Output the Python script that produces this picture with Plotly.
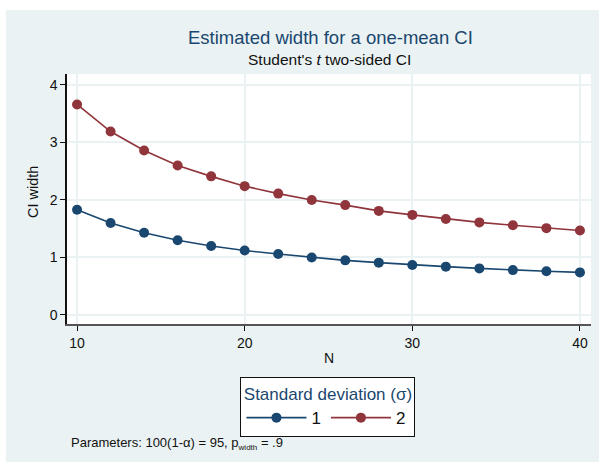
import plotly.graph_objects as go

# Sample sizes and estimated CI widths for each standard deviation
sample_size = [10, 12, 14, 16, 18, 20, 22, 24, 26, 28, 30, 32, 34, 36, 38, 40]
width_sd1 = [1.83, 1.60, 1.43, 1.30, 1.20, 1.12, 1.06, 1.00, 0.95, 0.91,
             0.87, 0.84, 0.81, 0.78, 0.76, 0.74]
width_sd2 = [3.66, 3.19, 2.86, 2.60, 2.41, 2.24, 2.11, 2.00, 1.91, 1.81,
             1.74, 1.67, 1.61, 1.56, 1.51, 1.47]
series_names = ["1", "2"]
x_ticks = [10, 20, 30, 40]
y_ticks = [0, 1, 2, 3, 4]

NAVY = "#1a476f"
MAROON = "#90353b"
BG = "#eaf2f3"
FONT = "Liberation Sans, Arial, sans-serif"

fig = go.Figure()
for name, vals, col in [(series_names[0], width_sd1, NAVY),
                        (series_names[1], width_sd2, MAROON)]:
    fig.add_trace(go.Scatter(
        x=sample_size, y=vals, name=name, mode="lines+markers",
        line=dict(color=col, width=1.6),
        marker=dict(color=col, size=10),
    ))

fig.update_layout(
    width=599, height=462,
    margin=dict(l=67, r=8, t=74, b=138),
    paper_bgcolor=BG, plot_bgcolor="white",
    font=dict(family=FONT, size=14, color="#111"),
    showlegend=True,
    legend=dict(
        orientation="h", x=0.498, xanchor="center", y=-0.212, yanchor="top",
        bgcolor="white", bordercolor="#111", borderwidth=1,
        font=dict(size=17, color="#111"),
        title=dict(text="Standard deviation (σ)", side="top center",
                   font=dict(size=17, color=NAVY)),
        itemwidth=60, tracegroupgap=0,
    ),
    xaxis=dict(
        range=[9.40, 40.66], tickvals=x_ticks, ticks="outside", ticklen=5,
        tickcolor="#111", showgrid=True, gridcolor=BG, gridwidth=1.5,
        showline=True, linecolor="#555", linewidth=1.5, zeroline=False,
        title=dict(text="N", standoff=4, font=dict(size=14)),
        tickfont=dict(size=14),
    ),
    yaxis=dict(
        range=[-0.157, 4.19], tickvals=y_ticks, ticks="outside", ticklen=5,
        tickcolor="#111", showgrid=True, gridcolor=BG, gridwidth=1.5,
        showline=True, linecolor="#111", linewidth=1.5, zeroline=False,
        tickfont=dict(size=14),
    ),
    annotations=[
        dict(text="Estimated width for a one-mean CI", xref="paper", yref="paper",
             x=0.503, y=1.148, xanchor="center", yanchor="middle", showarrow=False,
             font=dict(size=18.5, color=NAVY)),
        dict(text="Student's <i>t</i> two-sided CI", xref="paper", yref="paper",
             x=0.5, y=1.056, xanchor="center", yanchor="middle", showarrow=False,
             font=dict(size=15.5, color="#111")),
        dict(text="CI width", xref="paper", yref="paper", x=-0.065, y=0.528,
             xanchor="center", yanchor="middle", textangle=-90, showarrow=False,
             font=dict(size=14.5, color="#111")),
        dict(text="Parameters: 100(1-α) = 95, p<sub><span style='font-size:8px'>width</span></sub> = .9",
             xref="paper", yref="paper", x=0.004, y=-0.478,
             xanchor="left", yanchor="middle", showarrow=False,
             font=dict(size=13, color="#111")),
    ],
    shapes=[
        # white page margin on the left and top of the graph region
        dict(type="rect", xref="paper", yref="paper", x0=-0.2, x1=-0.1164,
             y0=-0.6, y1=1.4, fillcolor="white", line=dict(width=0), layer="above"),
        dict(type="rect", xref="paper", yref="paper", x0=-0.2, x1=1.1,
             y0=1.256, y1=1.4, fillcolor="white", line=dict(width=0), layer="above"),
    ],
)

fig.write_html("out.html")
